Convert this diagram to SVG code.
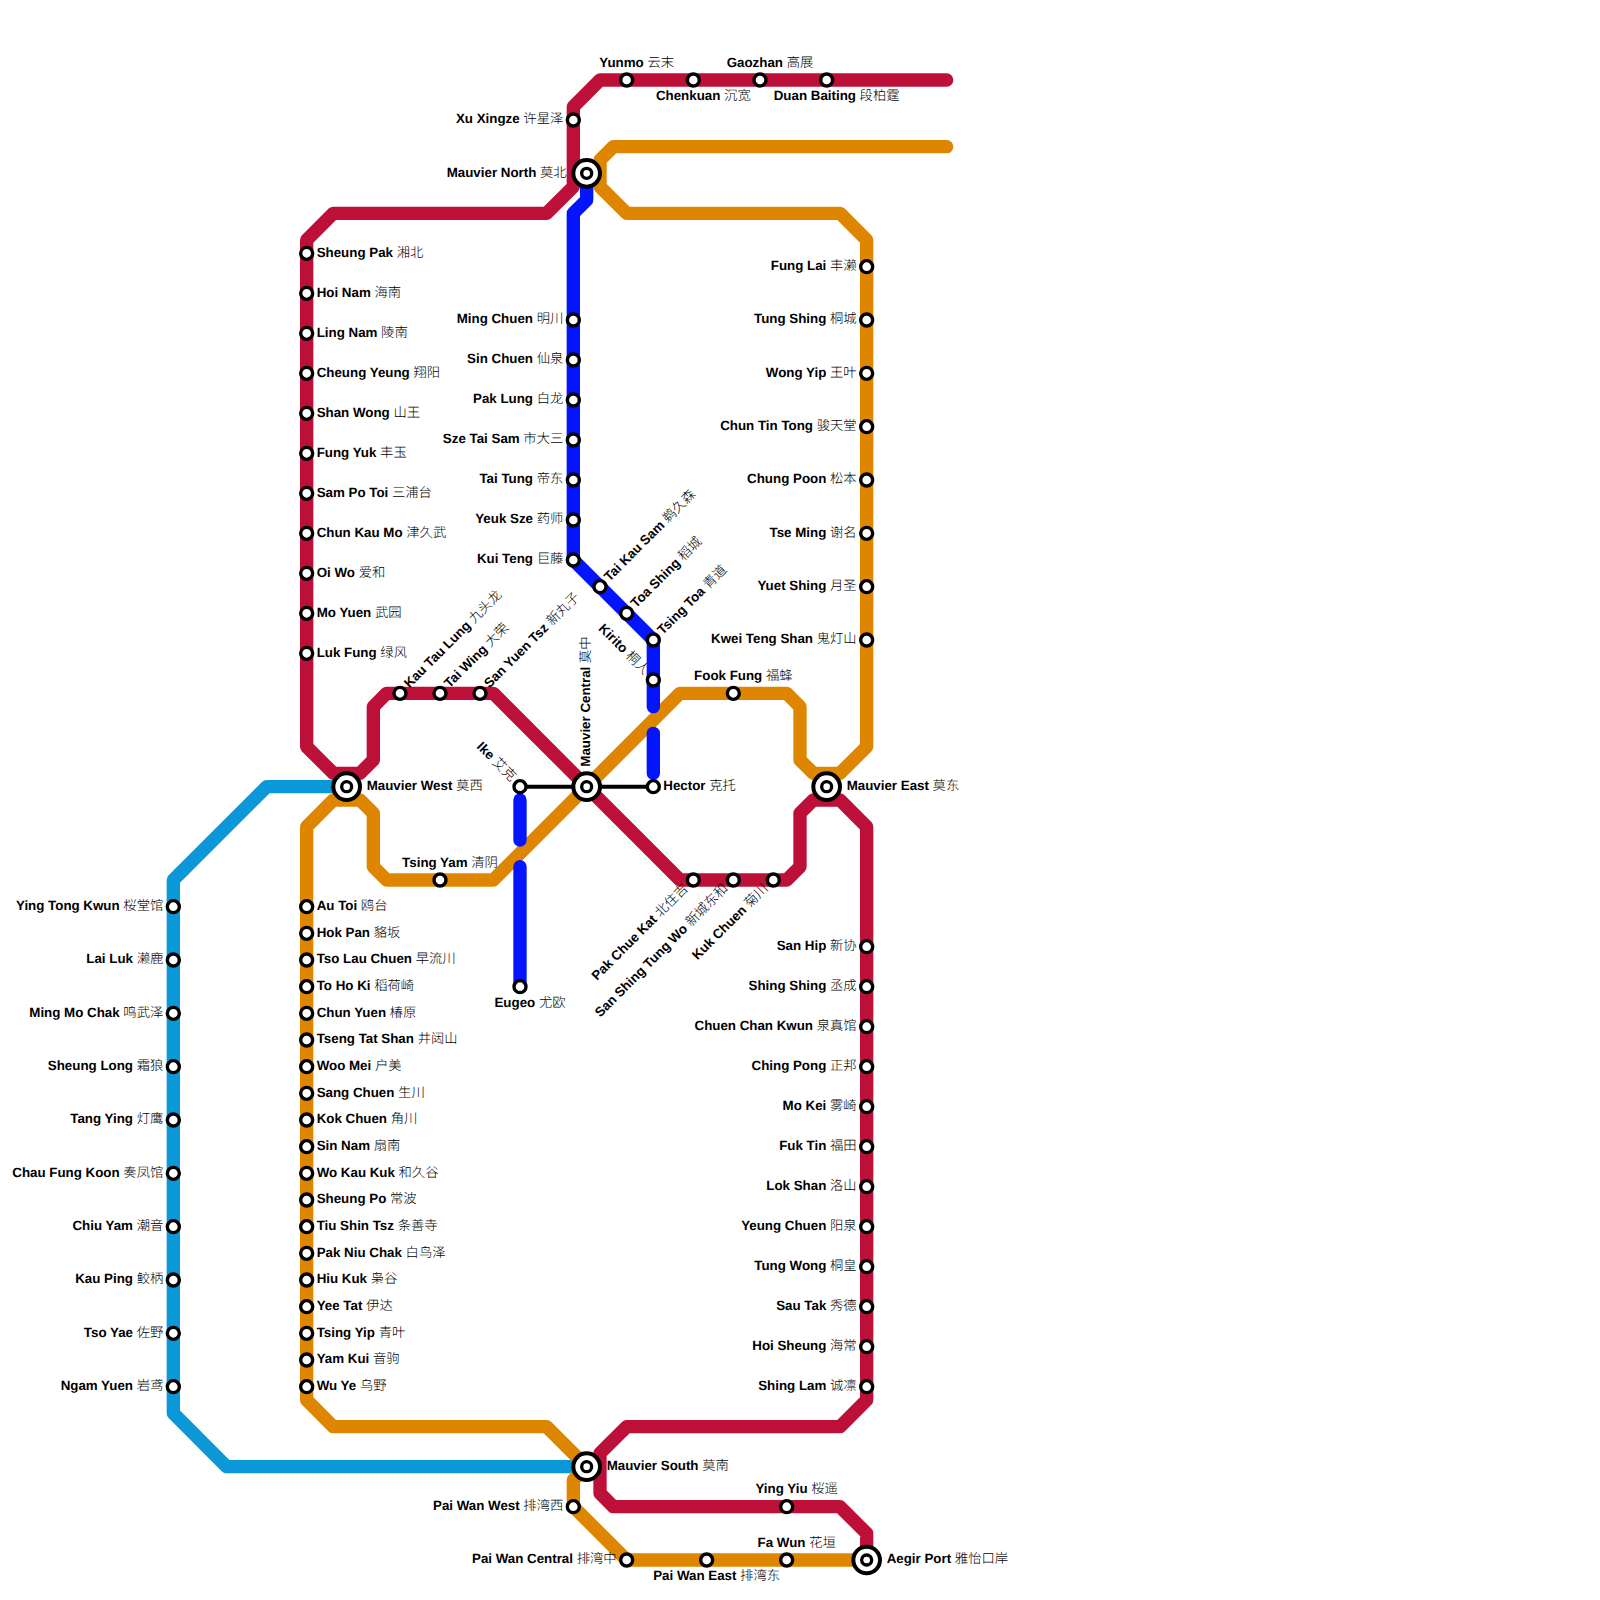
<svg xmlns="http://www.w3.org/2000/svg" width="1600" height="1600" viewBox="0 0 1600 1600">
<style>
.ln{fill:none;stroke-width:13.33;stroke-linecap:round;stroke-linejoin:round}
.red{stroke:#bd1038}.org{stroke:#df8600}.sky{stroke:#0a98d8}.blu{stroke:#0414ff}.blk{fill:none;stroke:#000;stroke-width:4}
.st{fill:#fff;stroke:#000;stroke-width:3.4}
.hb{fill:#fff;stroke:#000;stroke-width:4}
.hi{fill:#fff;stroke:#000;stroke-width:3.33}
text{font-family:"Liberation Sans","Noto Sans CJK SC",sans-serif;font-size:13.33px;font-weight:bold;fill:#000;text-rendering:geometricPrecision}
.c{font-family:"Noto Sans CJK SC",sans-serif;font-weight:300;fill:#000}
.e{text-anchor:end}.m{text-anchor:middle}
</style>
<rect width="1600" height="1600" fill="#fff"/>
<g id="connectors">
<path class="ln sky" d="M346.67 786.67H266.67L173.33 880V1413.33L226.67 1466.67H586.67"/>
<path class="ln org" d="M946.67 146.67H613.33L600 160V186.67L626.67 213.33H840L866.67 240V746.67L840 773.33H813.33L800 760V706.67L786.67 693.33H680L493.33 880H386.67L373.33 866.67V813.33L360 800H333.33L306.67 826.67V1400L333.33 1426.67H546.67L586.67 1466.67L573.33 1480V1506.67L626.67 1560H866.67"/>
<path class="ln red" d="M946.67 80H600L573.33 106.67V186.67L546.67 213.33H333.33L306.67 240V746.67L333.33 773.33H360L373.33 760V706.67L386.67 693.33H493.33L680 880H786.67L800 866.67V813.33L813.33 800H840L866.67 826.67V1400L840 1426.67H626.67L600 1453.33V1493.33L613.33 1506.67H840L866.67 1533.33V1560"/>
<path class="ln blu" d="M586.67 173.33V200L573.33 213.33V560L653.33 640V706.67"/>
<path class="ln blu" d="M653.33 733.33V773.33"/>
<path class="ln blu" d="M520 800V840"/>
<path class="ln blu" d="M520 866.67V986.67"/>
<path class="blk" d="M520 786.67H653.33"/>
</g>
<g id="hub-north" transform="translate(586.67 173.33)"><circle class="hb" r="13.33"/><circle class="hi" r="5"/><text class="e" x="-20" y="3.3">Mauvier North <tspan class="c">莫北</tspan></text></g>
<g id="hub-west" transform="translate(346.67 786.67)"><circle class="hb" r="13.33"/><circle class="hi" r="5"/><text x="20" y="3.3">Mauvier West <tspan class="c">莫西</tspan></text></g>
<g id="hub-central" transform="translate(586.67 786.67)"><circle class="hb" r="13.33"/><circle class="hi" r="5"/><text transform="rotate(-90)" x="20" y="3.3">Mauvier Central <tspan class="c">莫中</tspan></text></g>
<g id="hub-east" transform="translate(826.67 786.67)"><circle class="hb" r="13.33"/><circle class="hi" r="5"/><text x="20" y="3.3">Mauvier East <tspan class="c">莫东</tspan></text></g>
<g id="hub-south" transform="translate(586.67 1466.67)"><circle class="hb" r="13.33"/><circle class="hi" r="5"/><text x="20" y="3.3">Mauvier South <tspan class="c">莫南</tspan></text></g>
<g id="hub-aegir" transform="translate(866.67 1560)"><circle class="hb" r="13.33"/><circle class="hi" r="5"/><text x="20" y="3.3">Aegir Port <tspan class="c">雅怡口岸</tspan></text></g>

<g id="n-yunmo" transform="translate(626.67 80)"><circle class="st" r="6"/><text class="m" x="10" y="-13.3">Yunmo <tspan class="c">云末</tspan></text></g>
<g id="n-chenkuan" transform="translate(693.33 80)"><circle class="st" r="6"/><text class="m" x="10" y="20">Chenkuan <tspan class="c">沉宽</tspan></text></g>
<g id="n-gaozhan" transform="translate(760 80)"><circle class="st" r="6"/><text class="m" x="10" y="-13.3">Gaozhan <tspan class="c">高展</tspan></text></g>
<g id="n-duan" transform="translate(826.67 80)"><circle class="st" r="6"/><text class="m" x="10" y="20">Duan Baiting <tspan class="c">段柏霆</tspan></text></g>
<g id="n-xu" transform="translate(573.33 120)"><circle class="st" r="6"/><text class="e" x="-10" y="3.3">Xu Xingze <tspan class="c">许星泽</tspan></text></g>

<g id="n-sheungpak" transform="translate(306.67 253.33)"><circle class="st" r="6"/><text x="10" y="3.3">Sheung Pak <tspan class="c">湘北</tspan></text></g>
<g id="n-hoinam" transform="translate(306.67 293.33)"><circle class="st" r="6"/><text x="10" y="3.3">Hoi Nam <tspan class="c">海南</tspan></text></g>
<g id="n-lingnam" transform="translate(306.67 333.33)"><circle class="st" r="6"/><text x="10" y="3.3">Ling Nam <tspan class="c">陵南</tspan></text></g>
<g id="n-cheungyeung" transform="translate(306.67 373.33)"><circle class="st" r="6"/><text x="10" y="3.3">Cheung Yeung <tspan class="c">翔阳</tspan></text></g>
<g id="n-shanwong" transform="translate(306.67 413.33)"><circle class="st" r="6"/><text x="10" y="3.3">Shan Wong <tspan class="c">山王</tspan></text></g>
<g id="n-fungyuk" transform="translate(306.67 453.33)"><circle class="st" r="6"/><text x="10" y="3.3">Fung Yuk <tspan class="c">丰玉</tspan></text></g>
<g id="n-sampotoi" transform="translate(306.67 493.33)"><circle class="st" r="6"/><text x="10" y="3.3">Sam Po Toi <tspan class="c">三浦台</tspan></text></g>
<g id="n-chunkaumo" transform="translate(306.67 533.33)"><circle class="st" r="6"/><text x="10" y="3.3">Chun Kau Mo <tspan class="c">津久武</tspan></text></g>
<g id="n-oiwo" transform="translate(306.67 573.33)"><circle class="st" r="6"/><text x="10" y="3.3">Oi Wo <tspan class="c">爱和</tspan></text></g>
<g id="n-moyuen" transform="translate(306.67 613.33)"><circle class="st" r="6"/><text x="10" y="3.3">Mo Yuen <tspan class="c">武园</tspan></text></g>
<g id="n-lukfung" transform="translate(306.67 653.33)"><circle class="st" r="6"/><text x="10" y="3.3">Luk Fung <tspan class="c">绿风</tspan></text></g>

<g id="n-kautaulung" transform="translate(400 693.33)"><circle class="st" r="6"/><text transform="rotate(-45)" x="10" y="3.3">Kau Tau Lung <tspan class="c">九头龙</tspan></text></g>
<g id="n-taiwing" transform="translate(440 693.33)"><circle class="st" r="6"/><text transform="rotate(-45)" x="10" y="3.3">Tai Wing <tspan class="c">大荣</tspan></text></g>
<g id="n-sanyuentsz" transform="translate(480 693.33)"><circle class="st" r="6"/><text transform="rotate(-45)" x="10" y="3.3">San Yuen Tsz <tspan class="c">新丸子</tspan></text></g>

<g id="n-mingchuen" transform="translate(573.33 320)"><circle class="st" r="6"/><text class="e" x="-10" y="3.3">Ming Chuen <tspan class="c">明川</tspan></text></g>
<g id="n-sinchuen" transform="translate(573.33 360)"><circle class="st" r="6"/><text class="e" x="-10" y="3.3">Sin Chuen <tspan class="c">仙泉</tspan></text></g>
<g id="n-paklung" transform="translate(573.33 400)"><circle class="st" r="6"/><text class="e" x="-10" y="3.3">Pak Lung <tspan class="c">白龙</tspan></text></g>
<g id="n-szetaisam" transform="translate(573.33 440)"><circle class="st" r="6"/><text class="e" x="-10" y="3.3">Sze Tai Sam <tspan class="c">市大三</tspan></text></g>
<g id="n-taitung" transform="translate(573.33 480)"><circle class="st" r="6"/><text class="e" x="-10" y="3.3">Tai Tung <tspan class="c">帝东</tspan></text></g>
<g id="n-yeuksze" transform="translate(573.33 520)"><circle class="st" r="6"/><text class="e" x="-10" y="3.3">Yeuk Sze <tspan class="c">药师</tspan></text></g>
<g id="n-kuiteng" transform="translate(573.33 560)"><circle class="st" r="6"/><text class="e" x="-10" y="3.3">Kui Teng <tspan class="c">巨藤</tspan></text></g>
<g id="n-taikausam" transform="translate(600 586.67)"><circle class="st" r="6"/><text transform="rotate(-45)" x="10" y="3.3">Tai Kau Sam <tspan class="c">鹈久森</tspan></text></g>
<g id="n-toashing" transform="translate(626.67 613.33)"><circle class="st" r="6"/><text transform="rotate(-45)" x="10" y="3.3">Toa Shing <tspan class="c">稻城</tspan></text></g>
<g id="n-tsingtoa" transform="translate(653.33 640)"><circle class="st" r="6"/><text transform="rotate(-45)" x="10" y="3.3">Tsing Toa <tspan class="c">青道</tspan></text></g>
<g id="n-kirito" transform="translate(653.33 680)"><circle class="st" r="6"/><text class="e" transform="rotate(45)" x="-10" y="3.3">Kirito <tspan class="c">桐人</tspan></text></g>
<g id="n-hector" transform="translate(653.33 786.67)"><circle class="st" r="6"/><text x="10" y="3.3">Hector <tspan class="c">克托</tspan></text></g>
<g id="n-ike" transform="translate(520 786.67)"><circle class="st" r="6"/><text class="e" transform="rotate(45)" x="-10" y="3.3">Ike <tspan class="c">艾克</tspan></text></g>
<g id="n-eugeo" transform="translate(520 986.67)"><circle class="st" r="6"/><text class="m" x="10" y="20">Eugeo <tspan class="c">尤欧</tspan></text></g>
<g id="n-fookfung" transform="translate(733.33 693.33)"><circle class="st" r="6"/><text class="m" x="10" y="-13.3">Fook Fung <tspan class="c">福蜂</tspan></text></g>
<g id="n-tsingyam" transform="translate(440 880)"><circle class="st" r="6"/><text class="m" x="10" y="-13.3">Tsing Yam <tspan class="c">清阴</tspan></text></g>
<g id="n-pakchuekat" transform="translate(693.33 880)"><circle class="st" r="6"/><text class="e" transform="rotate(-45)" x="-10" y="3.3">Pak Chue Kat <tspan class="c">北住吉</tspan></text></g>
<g id="n-sanshing" transform="translate(733.33 880)"><circle class="st" r="6"/><text class="e" transform="rotate(-45)" x="-10" y="3.3">San Shing Tung Wo <tspan class="c">新城东和</tspan></text></g>
<g id="n-kukchuen" transform="translate(773.33 880)"><circle class="st" r="6"/><text class="e" transform="rotate(-45)" x="-10" y="3.3">Kuk Chuen <tspan class="c">菊川</tspan></text></g>

<g id="n-funglai" transform="translate(866.67 266.67)"><circle class="st" r="6"/><text class="e" x="-10" y="3.3">Fung Lai <tspan class="c">丰濑</tspan></text></g>
<g id="n-tungshing" transform="translate(866.67 320)"><circle class="st" r="6"/><text class="e" x="-10" y="3.3">Tung Shing <tspan class="c">桐城</tspan></text></g>
<g id="n-wongyip" transform="translate(866.67 373.33)"><circle class="st" r="6"/><text class="e" x="-10" y="3.3">Wong Yip <tspan class="c">王叶</tspan></text></g>
<g id="n-chuntintong" transform="translate(866.67 426.67)"><circle class="st" r="6"/><text class="e" x="-10" y="3.3">Chun Tin Tong <tspan class="c">骏天堂</tspan></text></g>
<g id="n-chungpoon" transform="translate(866.67 480)"><circle class="st" r="6"/><text class="e" x="-10" y="3.3">Chung Poon <tspan class="c">松本</tspan></text></g>
<g id="n-tseming" transform="translate(866.67 533.33)"><circle class="st" r="6"/><text class="e" x="-10" y="3.3">Tse Ming <tspan class="c">谢名</tspan></text></g>
<g id="n-yuetshing" transform="translate(866.67 586.67)"><circle class="st" r="6"/><text class="e" x="-10" y="3.3">Yuet Shing <tspan class="c">月圣</tspan></text></g>
<g id="n-kweitengshan" transform="translate(866.67 640)"><circle class="st" r="6"/><text class="e" x="-10" y="3.3">Kwei Teng Shan <tspan class="c">鬼灯山</tspan></text></g>

<g id="n-sanhip" transform="translate(866.67 946.67)"><circle class="st" r="6"/><text class="e" x="-10" y="3.3">San Hip <tspan class="c">新协</tspan></text></g>
<g id="n-shingshing" transform="translate(866.67 986.67)"><circle class="st" r="6"/><text class="e" x="-10" y="3.3">Shing Shing <tspan class="c">丞成</tspan></text></g>
<g id="n-chuenchankwun" transform="translate(866.67 1026.67)"><circle class="st" r="6"/><text class="e" x="-10" y="3.3">Chuen Chan Kwun <tspan class="c">泉真馆</tspan></text></g>
<g id="n-chingpong" transform="translate(866.67 1066.67)"><circle class="st" r="6"/><text class="e" x="-10" y="3.3">Ching Pong <tspan class="c">正邦</tspan></text></g>
<g id="n-mokei" transform="translate(866.67 1106.67)"><circle class="st" r="6"/><text class="e" x="-10" y="3.3">Mo Kei <tspan class="c">雾崎</tspan></text></g>
<g id="n-fuktin" transform="translate(866.67 1146.67)"><circle class="st" r="6"/><text class="e" x="-10" y="3.3">Fuk Tin <tspan class="c">福田</tspan></text></g>
<g id="n-lokshan" transform="translate(866.67 1186.67)"><circle class="st" r="6"/><text class="e" x="-10" y="3.3">Lok Shan <tspan class="c">洛山</tspan></text></g>
<g id="n-yeungchuen" transform="translate(866.67 1226.67)"><circle class="st" r="6"/><text class="e" x="-10" y="3.3">Yeung Chuen <tspan class="c">阳泉</tspan></text></g>
<g id="n-tungwong" transform="translate(866.67 1266.67)"><circle class="st" r="6"/><text class="e" x="-10" y="3.3">Tung Wong <tspan class="c">桐皇</tspan></text></g>
<g id="n-sautak" transform="translate(866.67 1306.67)"><circle class="st" r="6"/><text class="e" x="-10" y="3.3">Sau Tak <tspan class="c">秀德</tspan></text></g>
<g id="n-hoisheung" transform="translate(866.67 1346.67)"><circle class="st" r="6"/><text class="e" x="-10" y="3.3">Hoi Sheung <tspan class="c">海常</tspan></text></g>
<g id="n-shinglam" transform="translate(866.67 1386.67)"><circle class="st" r="6"/><text class="e" x="-10" y="3.3">Shing Lam <tspan class="c">诚凛</tspan></text></g>

<g id="n-yingtongkwun" transform="translate(173.33 906.67)"><circle class="st" r="6"/><text class="e" x="-10" y="3.3">Ying Tong Kwun <tspan class="c">桜堂馆</tspan></text></g>
<g id="n-lailuk" transform="translate(173.33 960)"><circle class="st" r="6"/><text class="e" x="-10" y="3.3">Lai Luk <tspan class="c">濑鹿</tspan></text></g>
<g id="n-mingmochak" transform="translate(173.33 1013.33)"><circle class="st" r="6"/><text class="e" x="-10" y="3.3">Ming Mo Chak <tspan class="c">鸣武泽</tspan></text></g>
<g id="n-sheunglong" transform="translate(173.33 1066.67)"><circle class="st" r="6"/><text class="e" x="-10" y="3.3">Sheung Long <tspan class="c">霜狼</tspan></text></g>
<g id="n-tangying" transform="translate(173.33 1120)"><circle class="st" r="6"/><text class="e" x="-10" y="3.3">Tang Ying <tspan class="c">灯鹰</tspan></text></g>
<g id="n-chaufungkoon" transform="translate(173.33 1173.33)"><circle class="st" r="6"/><text class="e" x="-10" y="3.3">Chau Fung Koon <tspan class="c">奏凤馆</tspan></text></g>
<g id="n-chiuyam" transform="translate(173.33 1226.67)"><circle class="st" r="6"/><text class="e" x="-10" y="3.3">Chiu Yam <tspan class="c">潮音</tspan></text></g>
<g id="n-kauping" transform="translate(173.33 1280)"><circle class="st" r="6"/><text class="e" x="-10" y="3.3">Kau Ping <tspan class="c">鲛柄</tspan></text></g>
<g id="n-tsoyae" transform="translate(173.33 1333.33)"><circle class="st" r="6"/><text class="e" x="-10" y="3.3">Tso Yae <tspan class="c">佐野</tspan></text></g>
<g id="n-ngamyuen" transform="translate(173.33 1386.67)"><circle class="st" r="6"/><text class="e" x="-10" y="3.3">Ngam Yuen <tspan class="c">岩鸢</tspan></text></g>

<g id="n-autoi" transform="translate(306.67 906.67)"><circle class="st" r="6"/><text x="10" y="3.3">Au Toi <tspan class="c">鸥台</tspan></text></g>
<g id="n-hokpan" transform="translate(306.67 933.33)"><circle class="st" r="6"/><text x="10" y="3.3">Hok Pan <tspan class="c">貉坂</tspan></text></g>
<g id="n-tsolauchuen" transform="translate(306.67 960)"><circle class="st" r="6"/><text x="10" y="3.3">Tso Lau Chuen <tspan class="c">早流川</tspan></text></g>
<g id="n-tohoki" transform="translate(306.67 986.67)"><circle class="st" r="6"/><text x="10" y="3.3">To Ho Ki <tspan class="c">稻荷崎</tspan></text></g>
<g id="n-chunyuen" transform="translate(306.67 1013.33)"><circle class="st" r="6"/><text x="10" y="3.3">Chun Yuen <tspan class="c">椿原</tspan></text></g>
<g id="n-tsengtatshan" transform="translate(306.67 1040)"><circle class="st" r="6"/><text x="10" y="3.3">Tseng Tat Shan <tspan class="c">井闼山</tspan></text></g>
<g id="n-woomei" transform="translate(306.67 1066.67)"><circle class="st" r="6"/><text x="10" y="3.3">Woo Mei <tspan class="c">户美</tspan></text></g>
<g id="n-sangchuen" transform="translate(306.67 1093.33)"><circle class="st" r="6"/><text x="10" y="3.3">Sang Chuen <tspan class="c">生川</tspan></text></g>
<g id="n-kokchuen" transform="translate(306.67 1120)"><circle class="st" r="6"/><text x="10" y="3.3">Kok Chuen <tspan class="c">角川</tspan></text></g>
<g id="n-sinnam" transform="translate(306.67 1146.67)"><circle class="st" r="6"/><text x="10" y="3.3">Sin Nam <tspan class="c">扇南</tspan></text></g>
<g id="n-wokaukuk" transform="translate(306.67 1173.33)"><circle class="st" r="6"/><text x="10" y="3.3">Wo Kau Kuk <tspan class="c">和久谷</tspan></text></g>
<g id="n-sheungpo" transform="translate(306.67 1200)"><circle class="st" r="6"/><text x="10" y="3.3">Sheung Po <tspan class="c">常波</tspan></text></g>
<g id="n-tiushintsz" transform="translate(306.67 1226.67)"><circle class="st" r="6"/><text x="10" y="3.3">Tiu Shin Tsz <tspan class="c">条善寺</tspan></text></g>
<g id="n-pakniuchak" transform="translate(306.67 1253.33)"><circle class="st" r="6"/><text x="10" y="3.3">Pak Niu Chak <tspan class="c">白鸟泽</tspan></text></g>
<g id="n-hiukuk" transform="translate(306.67 1280)"><circle class="st" r="6"/><text x="10" y="3.3">Hiu Kuk <tspan class="c">枭谷</tspan></text></g>
<g id="n-yeetat" transform="translate(306.67 1306.67)"><circle class="st" r="6"/><text x="10" y="3.3">Yee Tat <tspan class="c">伊达</tspan></text></g>
<g id="n-tsingyip" transform="translate(306.67 1333.33)"><circle class="st" r="6"/><text x="10" y="3.3">Tsing Yip <tspan class="c">青叶</tspan></text></g>
<g id="n-yamkui" transform="translate(306.67 1360)"><circle class="st" r="6"/><text x="10" y="3.3">Yam Kui <tspan class="c">音驹</tspan></text></g>
<g id="n-wuye" transform="translate(306.67 1386.67)"><circle class="st" r="6"/><text x="10" y="3.3">Wu Ye <tspan class="c">乌野</tspan></text></g>

<g id="n-paiwanwest" transform="translate(573.33 1506.67)"><circle class="st" r="6"/><text class="e" x="-10" y="3.3">Pai Wan West <tspan class="c">排湾西</tspan></text></g>
<g id="n-paiwancentral" transform="translate(626.67 1560)"><circle class="st" r="6"/><text class="e" x="-10" y="3.3">Pai Wan Central <tspan class="c">排湾中</tspan></text></g>
<g id="n-paiwaneast" transform="translate(706.67 1560)"><circle class="st" r="6"/><text class="m" x="10" y="20">Pai Wan East <tspan class="c">排湾东</tspan></text></g>
<g id="n-fawun" transform="translate(786.67 1560)"><circle class="st" r="6"/><text class="m" x="10" y="-13.3">Fa Wun <tspan class="c">花垣</tspan></text></g>
<g id="n-yingyiu" transform="translate(786.67 1506.67)"><circle class="st" r="6"/><text class="m" x="10" y="-13.3">Ying Yiu <tspan class="c">桜遥</tspan></text></g>
</svg>
